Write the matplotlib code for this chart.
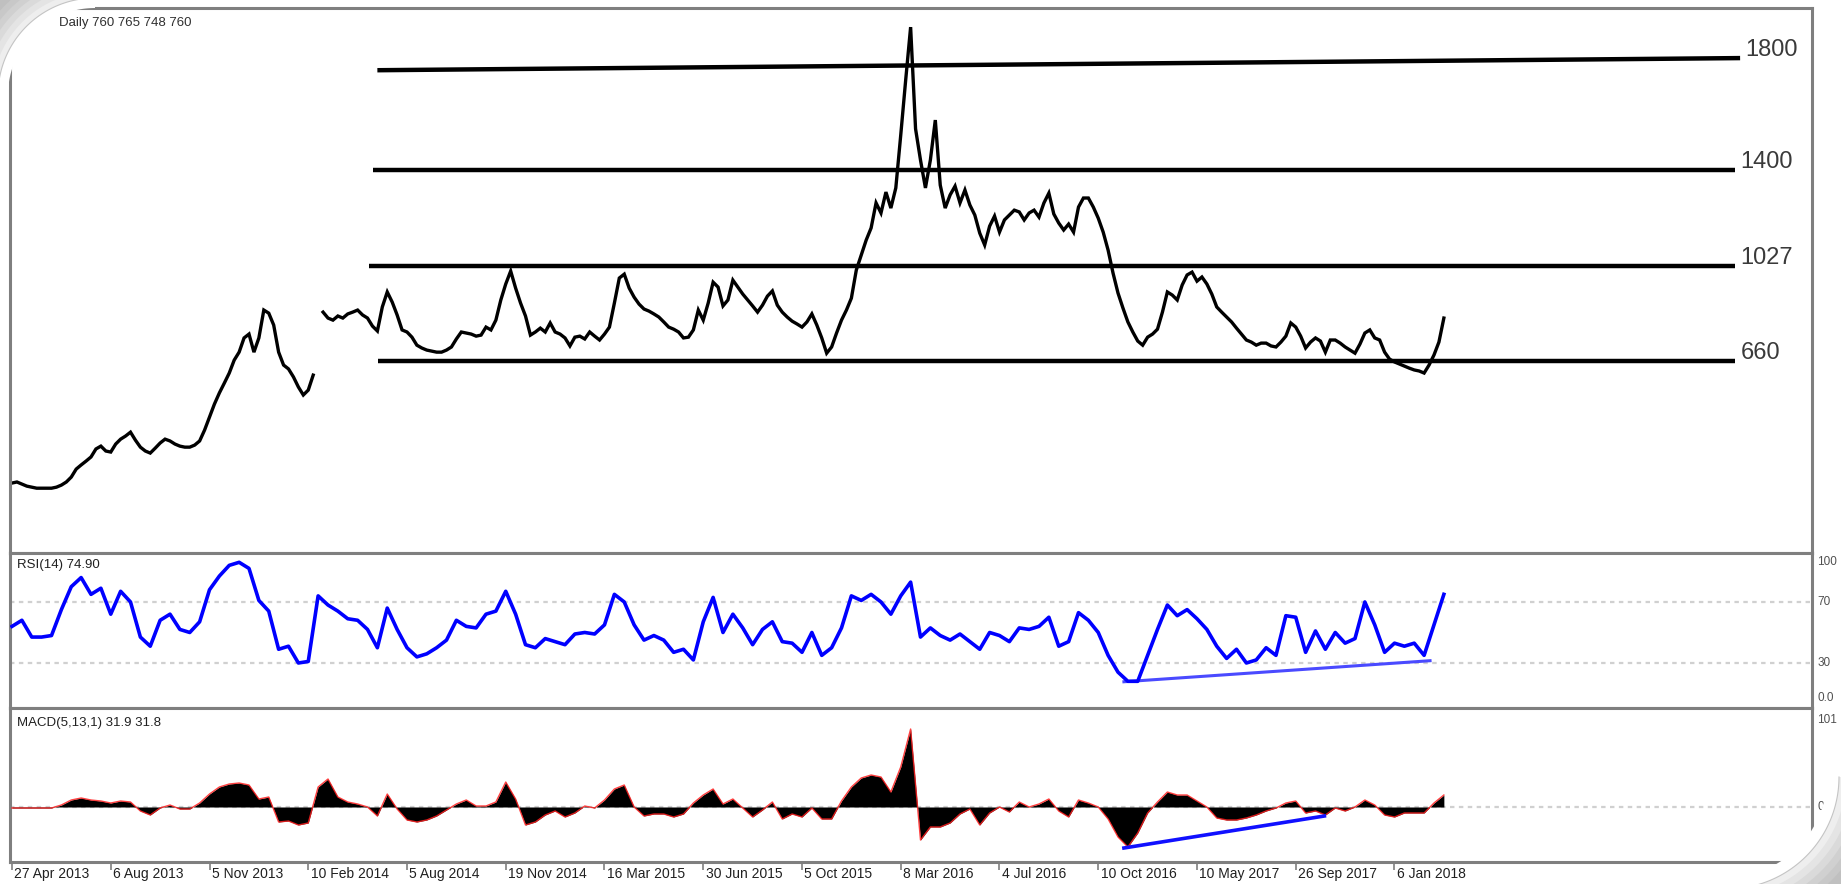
import numpy as np
import matplotlib
matplotlib.use("Agg")
import matplotlib.pyplot as plt
from matplotlib.patches import Polygon
import matplotlib.transforms as mtransforms

plt.rcParams['font.family'] = ['Liberation Sans', 'DejaVu Sans']

nan = np.nan

# ---------------- data ----------------
date_labels = ["27 Apr 2013", "6 Aug 2013", "5 Nov 2013", "10 Feb 2014", "5 Aug 2014",
               "19 Nov 2014", "16 Mar 2015", "30 Jun 2015", "5 Oct 2015", "8 Mar 2016",
               "4 Jul 2016", "10 Oct 2016", "10 May 2017", "26 Sep 2017", "6 Jan 2018"]

price_step = 0.05   # label-interval units per price sample
price_close = [
    188, 192, 184, 176, 172, 168, 168, 168, 168, 172, 180, 192, 211, 242, 258, 273, 289, 320, 331, 312,
    308, 339, 358, 370, 385, 354, 327, 312, 304, 323, 343, 358, 351, 339, 331, 327, 327, 335, 351, 393,
    444, 494, 537, 575, 614, 664, 695, 750, 765, 695, 750, 858, 846, 800, 695, 645, 630, 599, 560, 529,
    548, 606, nan, 850, 827, 819, 835, 827, 843, 850, 858, 839, 827, 796, 777, 870, 928, 889, 839, 781,
    773, 753, 722, 711, 703, 699, 695, 695, 703, 715, 746, 773, 769, 765, 757, 761, 792, 781, 819, 897,
    959, 1009, 943, 885, 835, 761, 773, 788, 773, 808, 773, 765, 750, 719, 753, 757, 746, 773, 757, 742,
    765, 792, 885, 982, 997, 943, 908, 881, 862, 854, 843, 831, 812, 792, 784, 773, 750, 753, 781, 858,
    819, 885, 966, 947, 874, 897, 974, 947, 920, 897, 874, 850, 877, 912, 932, 877, 850, 831, 815, 804,
    792, 812, 843, 800, 750, 691, 715, 769, 819, 858, 904, 1013, 1071, 1129, 1176, 1273, 1234, 1315, 1253, 1331,
    1536, 1749, 1954, 1560, 1439, 1331, 1439, 1594, 1342, 1253, 1304, 1338, 1273, 1323, 1265, 1226, 1156, 1110, 1183, 1222,
    1160, 1207, 1226, 1245, 1238, 1207, 1234, 1245, 1218, 1273, 1311, 1230, 1195, 1168, 1191, 1160, 1257, 1292, 1292, 1257,
    1214, 1160, 1090, 1001, 924, 866, 812, 773, 738, 722, 753, 765, 784, 850, 928, 916, 897, 955, 994, 1005,
    970, 986, 959, 920, 870, 850, 831, 812, 788, 765, 742, 734, 722, 730, 730, 719, 715, 734, 757, 808,
    792, 757, 711, 734, 750, 738, 695, 742, 742, 730, 715, 703, 691, 726, 769, 781, 750, 742, 695, 668,
    657, 649, 641, 633, 626, 622, 614, 645, 684, 734, 827]

ind_step = 0.1
rsi_values = [
    54, 58, 47, 47, 48, 65, 80, 86, 75, 79, 62, 77, 70, 47, 41, 58, 62, 52, 50, 57,
    78, 87, 94, 96, 92, 71, 64, 39, 41, 30, 31, 74, 68, 64, 59, 58, 52, 40, 66, 52,
    40, 34, 36, 40, 45, 58, 54, 53, 62, 64, 77, 62, 42, 40, 46, 44, 42, 49, 50, 49,
    55, 75, 70, 55, 45, 48, 45, 37, 39, 32, 57, 73, 50, 62, 53, 42, 52, 57, 44, 43,
    37, 50, 35, 40, 53, 74, 71, 75, 70, 62, 74, 83, 47, 53, 48, 45, 49, 44, 39, 50,
    48, 44, 53, 52, 54, 60, 41, 44, 63, 58, 50, 35, 24, 18, 18, 35, 52, 68, 61, 65,
    59, 52, 41, 33, 39, 30, 32, 40, 35, 61, 60, 37, 51, 39, 50, 43, 46, 70, 55, 37,
    43, 41, 43, 35, 55, 75]

macd_values = [
    -1, -1, -1, -1, -1, 2, 7, 9, 7, 6, 4, 6, 5, -4, -8, -1, 2, -2, -2, 4,
    13, 20, 23, 24, 22, 8, 10, -15, -14, -18, -16, 20, 28, 10, 5, 3, 0, -9, 13, -2,
    -13, -15, -13, -9, -3, 3, 7, 1, 1, 5, 25, 8, -18, -15, -8, -4, -10, -6, 1, -1,
    7, 18, 22, 0, -9, -7, -7, -10, -7, 4, 12, 18, 3, 8, -1, -10, -3, 5, -12, -7,
    -10, -1, -12, -12, 6, 20, 29, 32, 30, 15, 40, 78, -33, -20, -20, -16, -7, -2, -18, -6,
    0, -5, 5, 0, 3, 8, -4, -10, 7, 4, 0, -12, -30, -40, -26, -6, 5, 15, 12, 12,
    6, 0, -11, -13, -13, -11, -8, -4, -1, 4, 6, -6, -4, -8, -1, -4, 0, 7, 2, -8,
    -10, -6, -6, -6, 4, 12]

level_labels = ["1800", "1400", "1027", "660"]
level_left = [1787, 1400, 1027, 660]
level_right = [1834, 1400, 1027, 660]
level_x0 = [3.70, 3.66, 3.62, 3.71]
level_x1 = [17.50, 17.45, 17.45, 17.45]

rsi_trend_x = [11.26, 14.36]
rsi_trend_y = [17.7, 31.5]
macd_trend_x = [11.26, 13.29]
macd_trend_y = [-41, -9]

rsi_levels = [70, 30]
rsi_scale_labels = [("100", 96), ("70", 70), ("30", 30), ("0.0", 7)]
macd_scale_labels = [("101", 87), ("0", 0)]

# ---------------- figure ----------------
W, H = 1841, 884
fig = plt.figure(figsize=(W / 100, H / 100), dpi=100)
fig.patch.set_facecolor('white')


def ax_rect(x0, y0, x1, y1):
    return [x0 / W, 1 - y1 / H, (x1 - x0) / W, (y1 - y0) / H]


ax1 = fig.add_axes(ax_rect(10, 8, 1812, 553))
ax2 = fig.add_axes(ax_rect(10, 553, 1812, 708))
ax3 = fig.add_axes(ax_rect(10, 708, 1812, 862))

xlim = (-0.0203, 18.228)
frame_col = '#7f7f7f'
for ax in (ax1, ax2, ax3):
    ax.set_xlim(*xlim)
    ax.set_facecolor('white')
    for s in ax.spines.values():
        s.set_color(frame_col)
        s.set_linewidth(2.2)
    ax.set_yticks([])
ax1.set_xticks([])
ax2.set_xticks([])

# price panel
ax1.set_ylim(-83, 2028)
xp = np.arange(len(price_close)) * price_step
ax1.plot(xp, price_close, color='black', lw=2.4, solid_joinstyle='miter')
for lab, y0, y1, x0, x1 in zip(level_labels, level_left, level_right, level_x0, level_x1):
    ax1.plot([x0, x1], [y0, y1], color='black', lw=3.2, solid_capstyle='butt')
    ax1.annotate(lab, xy=(x1, y1), xytext=(4, 6), textcoords='offset points',
                 ha='left', va='center', fontsize=17, color='#3a3a3a')
ax1.text(59 / W, 1 - 23 / H, "Daily 760 765 748 760", transform=fig.transFigure,
         ha='left', va='center', fontsize=9.5, color='#303030')

# RSI panel
ax2.set_ylim(0.5, 102.1)
xi = np.arange(len(rsi_values)) * ind_step
for lv in rsi_levels:
    ax2.axhline(lv, color='#d0d0d0', lw=1.6, ls=(0, (2, 2)), zorder=1)
ax2.plot(rsi_trend_x, rsi_trend_y, color='#4a4aff', lw=2.2, zorder=2)
ax2.plot(xi, rsi_values, color='#0000ff', lw=2.6, zorder=3)
ax2.text(0.004, 0.92, "RSI(14) 74.90", transform=ax2.transAxes, ha='left', va='center',
         fontsize=9.5, color='#202020')
tr2 = mtransforms.blended_transform_factory(ax2.transAxes, ax2.transData)
for lab, v in rsi_scale_labels:
    ax2.text(1.003, v, lab, transform=tr2, ha='left', va='center', fontsize=8.5,
             color='#505050', clip_on=False)

# MACD panel
ax3.set_ylim(-55, 99)
xm = np.arange(len(macd_values)) * ind_step
ax3.axhline(0, color='#d0d0d0', lw=1.6, ls=(0, (2, 2)), zorder=1)
ax3.fill_between(xm, 0, macd_values, color='black', lw=0, zorder=2)
ax3.plot(xm, macd_values, color='#ff2020', lw=1.0, alpha=0.85, zorder=3)
ax3.plot(macd_trend_x, macd_trend_y, color='#1010ff', lw=2.6, zorder=4)
ax3.text(0.004, 0.9, "MACD(5,13,1) 31.9 31.8", transform=ax3.transAxes, ha='left',
         va='center', fontsize=9.5, color='#202020')
tr3 = mtransforms.blended_transform_factory(ax3.transAxes, ax3.transData)
for lab, v in macd_scale_labels:
    ax3.text(1.003, v, lab, transform=tr3, ha='left', va='center', fontsize=8.5,
             color='#505050', clip_on=False)

ax3.set_xticks(range(len(date_labels)))
ax3.tick_params(axis='x', direction='out', length=6, width=1.2, color=frame_col,
                labelbottom=False)
trx = mtransforms.blended_transform_factory(ax3.transData, ax3.transAxes)
for k, lab in enumerate(date_labels):
    ax3.text(k + 0.025, -0.035, lab, transform=trx, ha='left', va='top',
             fontsize=10, color='#202020')


# ---------------- rounded-corner decoration ----------------
def to_fig(pts):
    pts = np.asarray(pts, dtype=float)
    return np.column_stack([pts[:, 0] / W, 1 - pts[:, 1] / H])


def corner_region(cx, cy, r, which):
    if which == 'tl':
        th = np.linspace(-np.pi / 2, -np.pi, 60)
        arc = np.column_stack([cx + r * np.cos(th), cy + r * np.sin(th)])
        extra = [(-5, cy), (-5, -5), (cx, -5)]
    else:
        th = np.linspace(0, np.pi / 2, 60)
        arc = np.column_stack([cx + r * np.cos(th), cy + r * np.sin(th)])
        extra = [(cx, H + 5), (W + 5, H + 5), (W + 5, cy)]
    return np.vstack([arc, np.array(extra)])


def add_corner(cx, cy, r_white, r_grad, which, step):
    fig.add_artist(Polygon(to_fig(corner_region(cx, cy, r_white, which)), closed=True,
                           transform=fig.transFigure, facecolor='white', edgecolor='none',
                           zorder=20))
    grays = ['#eeeeee', '#e4e4e4', '#dadada', '#d0d0d0', '#c8c8c8', '#c0c0c0']
    for j, g in enumerate(grays):
        fig.add_artist(Polygon(to_fig(corner_region(cx, cy, r_grad + step * j, which)),
                               closed=True, transform=fig.transFigure, facecolor=g,
                               edgecolor='none', zorder=21 + j))
    if which == 'tl':
        th = np.linspace(-np.pi / 2, -np.pi, 60)
    else:
        th = np.linspace(0, np.pi / 2, 60)
    arc = to_fig(np.column_stack([cx + r_grad * np.cos(th), cy + r_grad * np.sin(th)]))
    fig.add_artist(plt.Line2D(arc[:, 0], arc[:, 1], transform=fig.transFigure,
                              color='#c4c4c4', lw=0.8, zorder=30))


add_corner(95, 95, 87, 97, 'tl', 6)
add_corner(1727, 777, 100, 112, 'br', 7)

fig.savefig('out.png', dpi=100, facecolor='white')
